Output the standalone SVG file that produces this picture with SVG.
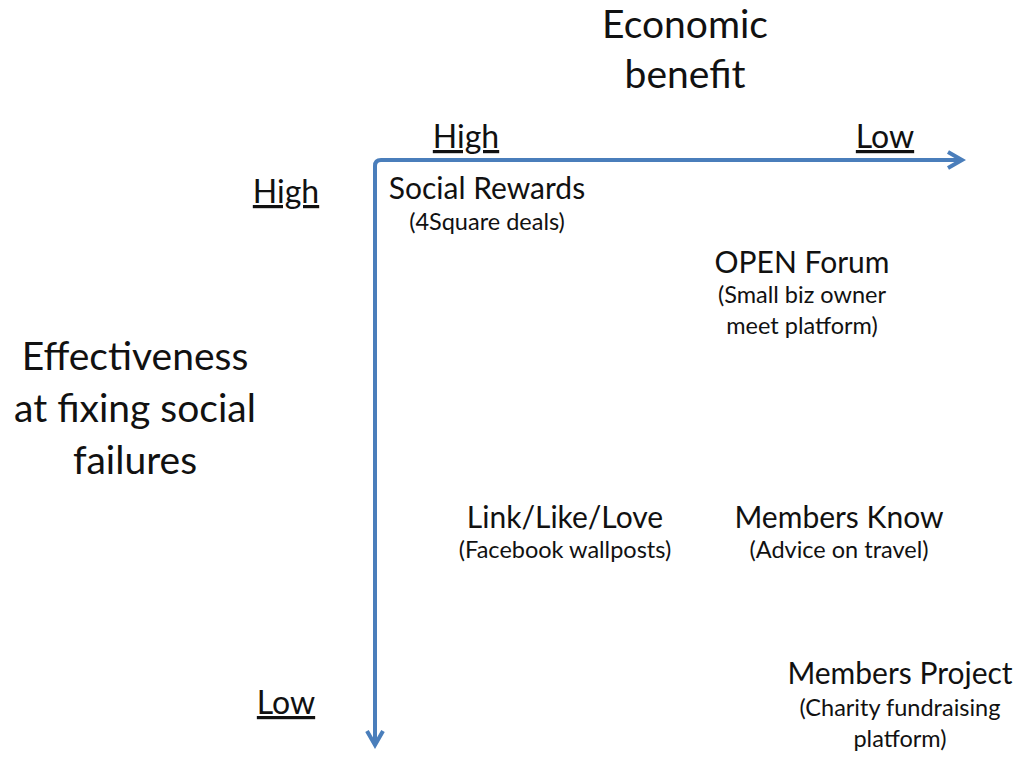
<svg xmlns="http://www.w3.org/2000/svg" width="1024" height="765" viewBox="0 0 1024 765">
<style>
text{font-family:Lato,"Open Sans","Liberation Sans",sans-serif;fill:#111;text-anchor:middle}
.big{font-size:39px}
.lvl{font-size:32px;text-decoration:underline}
.t{font-size:30px}
.s{font-size:23.5px}
.ax{fill:none;stroke:#4a7ebb;stroke-width:4}
</style>
<defs>
<marker id="ah" viewBox="0 0 10 10" refX="8" refY="5" markerWidth="5" markerHeight="5" orient="auto" markerUnits="strokeWidth">
<path d="M1,1 L8,5 L1,9" fill="none" stroke="#4a7ebb" stroke-width="2"/>
</marker>
</defs>
<rect width="1024" height="765" fill="#fff"/>
<g id="connectors">
<path class="ax" d="M381,160 H962" marker-end="url(#ah)"/>
<path class="ax" d="M375,166 Q375,160 381,160"/>
<path class="ax" d="M375,166 V745" marker-end="url(#ah)"/>
</g>
<g id="title-x"><text class="big" x="685" y="38">Economic</text><text class="big" x="685" y="88">benefit</text></g>
<g id="title-y"><text class="big" x="135" y="370">Effectiveness</text><text class="big" x="135" y="422">at fixing social</text><text class="big" x="135" y="474">failures</text></g>
<g id="x-high"><text class="lvl" x="466" y="148">High</text></g>
<g id="x-low"><text class="lvl" x="885" y="148">Low</text></g>
<g id="y-high"><text class="lvl" x="286" y="203">High</text></g>
<g id="y-low"><text class="lvl" x="286" y="714">Low</text></g>
<g id="social-rewards"><text class="t" x="487" y="199">Social Rewards</text><text class="s" x="487" y="230">(4Square deals)</text></g>
<g id="open-forum"><text class="t" x="802" y="273">OPEN Forum</text><text class="s" x="802" y="303">(Small biz owner</text><text class="s" x="802" y="334">meet platform)</text></g>
<g id="link-like-love"><text class="t" x="565" y="528">Link/Like/Love</text><text class="s" x="565" y="558">(Facebook wallposts)</text></g>
<g id="members-know"><text class="t" x="839" y="528">Members Know</text><text class="s" x="839" y="558">(Advice on travel)</text></g>
<g id="members-project"><text class="t" x="900" y="684">Members Project</text><text class="s" x="900" y="716">(Charity fundraising</text><text class="s" x="900" y="747">platform)</text></g>
</svg>
